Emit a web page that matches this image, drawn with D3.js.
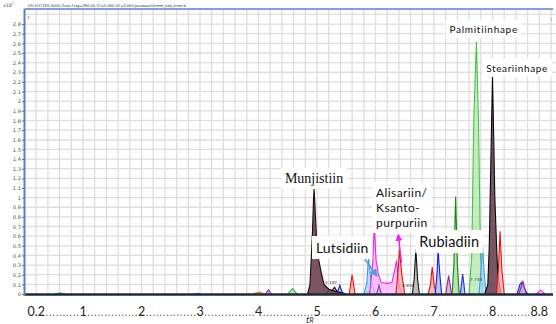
<!DOCTYPE html>
<html>
<head>
<meta charset="utf-8">
<script src="https://cdn.jsdelivr.net/npm/d3@7"></script>
<style>
  html, body { margin: 0; padding: 0; background: #fff; }
  svg { display: block; }
</style>
</head>
<body>
<svg id="chart" width="556" height="324"></svg>
<script>
// ---- axis ticks -------------------------------------------------------
const xTickValues = [0.2, 1, 2, 3, 4, 5, 6, 7, 8, 8.8];
const xTickLabels = ["0.2", "1", "2", "3", "4", "5", "6", "7", "8", "8.8"];
const yTickTenths = d3.range(0, 29);          // 0 … 2.8 (×10^7 counts)

// ---- chromatogram traces: [retention time (min), intensity ×10^7] ------
const greenBump06   = [[0.5,0],[0.6,0.012],[0.7,0]];
const purpleBump295 = [[2.9,0],[2.95,0.008],[3.0,0]];
const orangeBump40  = [[3.9,0],[4.02,0.02],[4.1,0]];
const purpleBump417 = [[4.12,0],[4.17,0.045],[4.22,0]];
const greenBump458  = [[4.5,0],[4.58,0.055],[4.66,0]];
const munjistiin    = [[4.84,0],[4.88,0.1],[4.9,0.35],[4.92,0.6],[4.94,0.98],[4.95,1.09],[4.96,0.98],[4.99,0.6],[5.03,0.35],[5.08,0.2],[5.12,0.1],[5.2,0.05],[5.3,0.03],[5.45,0.01],[5.5,0]];
const blackSmall53  = [[5.15,0],[5.2,0.05],[5.25,0.03],[5.3,0.07],[5.35,0.02],[5.42,0]];
const blueSmall539  = [[5.34,0],[5.39,0.09],[5.44,0]];
const red56         = [[5.55,0],[5.6,0.2],[5.65,0]];
const orange588     = [[5.82,0],[5.88,0.03],[5.95,0]];
const lutsidiin     = [[5.8,0],[5.85,0.1],[5.88,0.38],[5.92,0.15],[5.97,0.05],[6.0,0]];
const alisariin     = [[5.9,0],[5.95,0.3],[5.98,0.7],[6.01,0.35],[6.05,0.2],[6.1,0.12],[6.2,0.11],[6.28,0.12],[6.33,0.25],[6.36,0.35],[6.4,0.1],[6.45,0]];
const purple606     = [[6.02,0],[6.06,0.09],[6.1,0]];
const red640        = [[6.35,0],[6.38,0.2],[6.41,0.46],[6.45,0.2],[6.5,0]];
const black669      = [[6.63,0],[6.66,0.15],[6.69,0.46],[6.72,0.15],[6.75,0]];
const red697        = [[6.9,0],[6.94,0.1],[6.97,0.28],[7.0,0.1],[7.04,0]];
const rubiadiin     = [[7.02,0],[7.05,0.2],[7.07,0.46],[7.1,0.2],[7.13,0]];
const purple725     = [[7.2,0],[7.25,0.19],[7.3,0]];
const green737      = [[7.31,0],[7.34,0.3],[7.37,1.01],[7.4,0.3],[7.43,0]];
const blue749       = [[7.45,0],[7.49,0.21],[7.53,0]];
const palmitiinhape = [[7.6,0],[7.645,0.4],[7.68,1.8],[7.725,2.62],[7.76,1.8],[7.795,0.4],[7.84,0]];
const lightBlue783  = [[7.77,0],[7.81,0.3],[7.83,0.5],[7.86,0.2],[7.89,0]];
const steariinhape  = [[7.87,0],[7.92,0.1],[7.945,0.5],[7.96,1.0],[7.985,1.8],[8.0,2.25],[8.015,1.8],[8.04,1.0],[8.07,0.5],[8.09,0.2],[8.15,0]];
const red813        = [[8.07,0],[8.1,0.25],[8.13,0.65],[8.16,0.25],[8.2,0]];
const blue850       = [[8.42,0],[8.47,0.1],[8.5,0.12],[8.55,0.05],[8.6,0]];
const purple852     = [[8.45,0],[8.52,0.13],[8.58,0]];
const magenta882    = [[8.75,0],[8.82,0.04],[8.9,0]];

// ---- compound labels and peak annotations ------------------------------
const compoundNames = ["Munjistiin", "Lutsidiin", "Alisariin/|Ksanto-|purpuriin", "Rubiadiin", "Palmitiinhape", "Steariinhape"];
const peakTimes     = ["5.197", "6.658", "7.734"];

// ---- styles -------------------------------------------------------------
const traces = [
  { d: greenBump06,   line: "#3cb043", fill: null },
  { d: purpleBump295, line: "#7b3fa0", fill: null },
  { d: orangeBump40,  line: "#d08000", fill: "#f0c878" },
  { d: purpleBump417, line: "#8e2c8e", fill: "#d0a0d8" },
  { d: greenBump458,  line: "#33b033", fill: "#b0e0a8" },
  { d: blackSmall53,  line: "#111111", fill: "#909090" },
  { d: blueSmall539,  line: "#2222cc", fill: "#a8b0f0" },
  { d: red56,         line: "#e81010", fill: "#f6a8a8" },
  { d: orange588,     line: "#d08000", fill: "#f0c878" },
  { d: lutsidiin,     line: "#3a9af0", fill: "#a8d4f8" },
  { d: alisariin,     line: "#f020f0", fill: "#ffb0ff" },
  { d: purple606,     line: "#9b30b0", fill: "#d4a8e0" },
  { d: red640,        line: "#e81010", fill: "#f6a8a8" },
  { d: black669,      line: "#111111", fill: "#a8a8a8" },
  { d: red697,        line: "#e81010", fill: "#f6a8a8" },
  { d: rubiadiin,     line: "#1a1aee", fill: "#a8b0f0" },
  { d: purple725,     line: "#8a2a8a", fill: "#d0a0d8" },
  { d: green737,      line: "#0b8a0b", fill: "#a4d8a0" },
  { d: blue749,       line: "#2030d0", fill: "#a8b0f0" },
  { d: palmitiinhape, line: "#44c444", fill: "#b4e6ac" },
  { d: lightBlue783,  line: "#3a9af0", fill: "#a8d4f8" },
  { d: munjistiin,    line: "#1a0a10", fill: "#6e4254" },
  { d: steariinhape,  line: "#0a0a0a", fill: "#6e4254" },
  { d: red813,        line: "#e81010", fill: "#f6a8a8" },
  { d: blue850,       line: "#1a1aee", fill: "#a8b0f0" },
  { d: purple852,     line: "#8a2a8a", fill: "#d0a0d8" },
  { d: magenta882,    line: "#f020f0", fill: "#ffb0ff" }
];

const svg = d3.select("#chart");
const W = 556;
const x = d3.scaleLinear().domain([0, 9]).range([24.5, 551]);
const y = d3.scaleLinear().domain([0, 2.95]).range([294, 9.6]);

// grid
const grid = svg.append("g").attr("stroke", "#dedede").attr("stroke-width", 1.3);
grid.selectAll("line.v").data(d3.range(1, 46).map(i => i * 0.2)).join("line")
  .attr("x1", d => x(d)).attr("x2", d => x(d))
  .attr("y1", y(2.95)).attr("y2", y(0));
grid.selectAll("line.h").data(d3.range(1, 30).map(i => i / 10)).join("line")
  .attr("x1", x(0)).attr("x2", W)
  .attr("y1", d => y(d)).attr("y2", d => y(d));

// y axis ticks and labels
const fmt = d3.format(".1~f");
const yAxis = svg.append("g").attr("transform", `translate(${x(0)},0)`)
  .call(d3.axisLeft(y).tickValues(yTickTenths.map(v => v / 10)).tickFormat(fmt).tickSize(2.5).tickPadding(1));
yAxis.select(".domain").remove();
yAxis.selectAll("text").attr("font-family", "DejaVu Sans").attr("font-size", 5.2).attr("fill", "#555");
yAxis.selectAll("line").attr("stroke", "#666");

// header
svg.append("text").attr("x", 3).attr("y", 6.5).attr("font-family", "DejaVu Sans").attr("font-size", 4.6).attr("fill", "#444").text("x10");
svg.append("text").attr("x", 11.5).attr("y", 4.5).attr("font-family", "DejaVu Sans").attr("font-size", 3.2).attr("fill", "#444").text("7");
svg.append("text").attr("x", 27).attr("y", 6.5).attr("font-family", "DejaVu Sans").attr("font-size", 3.6).attr("fill", "#333")
  .text("-ESI EIC(283.0000) Scan Frag=380.0V CF=0.000 DF=0.000 punasavilikhem_kad_krom.d");
svg.append("text").attr("x", 27).attr("y", 19).attr("font-family", "DejaVu Sans").attr("font-size", 4.2).attr("fill", "#555").text("1");
svg.append("text").attr("x", 550).attr("y", 21).attr("font-family", "DejaVu Sans").attr("font-size", 4.2).attr("fill", "#999").text("1");

// traces: fills, then outlines
const area = d3.area().x(d => x(d[0])).y0(y(0)).y1(d => y(d[1]));
const line = d3.line().x(d => x(d[0])).y(d => y(d[1]));
const gT = svg.append("g");
traces.forEach(t => {
  if (t.fill) gT.append("path").attr("d", area(t.d)).attr("fill", t.fill)
    .attr("fill-opacity", t.fill === "#6e4254" ? 0.9 : 0.75);
  gT.append("path").attr("d", line(t.d)).attr("fill", "none").attr("stroke", t.line).attr("stroke-width", 1.1);
});

// baseline of all traces
svg.append("line").attr("x1", x(0)).attr("x2", 553).attr("y1", y(0) + 0.5).attr("y2", y(0) + 0.5)
  .attr("stroke", "#1c2a3c").attr("stroke-width", 2.6);

// axes frame
svg.append("line").attr("x1", x(0)).attr("x2", 553).attr("y1", 9).attr("y2", 9)
  .attr("stroke", "#5a7fc4").attr("stroke-width", 1.4);
svg.append("line").attr("x1", x(0)).attr("x2", x(0)).attr("y1", 9).attr("y2", 296)
  .attr("stroke", "#5a7fc4").attr("stroke-width", 2);

// small retention-time annotations
const annPos = [[5.24, 0.1], [6.56, 0.07], [7.72, 0.14]];
svg.append("g").selectAll("text").data(peakTimes).join("text")
  .attr("x", (d, i) => x(annPos[i][0])).attr("y", (d, i) => y(annPos[i][1]))
  .attr("text-anchor", "middle").attr("font-family", "DejaVu Sans").attr("font-size", 4.2).attr("fill", "#333")
  .text(d => d);

// arrows
const defs = svg.append("defs");
[["arMag", "#f020f0"], ["arBlue", "#5b9bd5"]].forEach(([id, c]) => {
  defs.append("marker").attr("id", id).attr("viewBox", "0 0 10 10").attr("refX", 8).attr("refY", 5)
    .attr("markerWidth", 5).attr("markerHeight", 5).attr("orient", "auto")
    .append("path").attr("d", "M0,0L10,5L0,10z").attr("fill", c);
});
svg.append("line").attr("x1", x(6.445)).attr("y1", y(0.32)).attr("x2", x(6.39)).attr("y2", y(0.61))
  .attr("stroke", "#f020f0").attr("stroke-width", 1.4).attr("marker-end", "url(#arMag)");
svg.append("line").attr("x1", x(5.82)).attr("y1", y(0.36)).attr("x2", x(6.02)).attr("y2", y(0.19))
  .attr("stroke", "#5b9bd5").attr("stroke-width", 1.6).attr("marker-end", "url(#arBlue)");

// compound labels with white boxes (anchor: "middle" or "start")
const labelSpec = [
  { t: 4.95, v: 1.156, anchor: "middle", font: "Liberation Serif", size: 14,  ls: 0,   lh: 0 },
  { t: 5.43, v: 0.425, anchor: "middle", font: "Lato",             size: 14,  ls: 0.1, lh: 0 },
  { t: 6.01, v: 1.006, anchor: "start",  font: "Lato",             size: 12,  ls: 0.4, lh: 15 },
  { t: 7.26, v: 0.487, anchor: "middle", font: "Lato",             size: 14.5, ls: 0.1, lh: 0 },
  { t: 7.85, v: 2.71,  anchor: "middle", font: "Lato",             size: 10,  ls: 0.7, lh: 0 },
  { t: 8.42, v: 2.307, anchor: "middle", font: "Lato",             size: 10,  ls: 0.6, lh: 0 }
];
const gL = svg.append("g");
compoundNames.forEach((name, i) => {
  const s = labelSpec[i];
  const g = gL.append("g");
  const txt = g.append("text").attr("font-family", s.font).attr("font-size", s.size)
    .attr("letter-spacing", s.ls).attr("fill", "#111").attr("text-anchor", s.anchor);
  name.split("|").forEach((ln, k) => {
    txt.append("tspan").attr("x", x(s.t)).attr("y", y(s.v) + k * s.lh).text(ln);
  });
  const bb = txt.node().getBBox();
  g.insert("rect", "text").attr("x", bb.x - 4).attr("y", bb.y - 3)
    .attr("width", bb.width + 8).attr("height", bb.height + 6).attr("fill", "#fff");
});

// x axis labels joined by dotted leaders
const gx = svg.append("g");
const xl = gx.selectAll("text").data(xTickValues).join("text")
  .attr("x", d => x(d)).attr("y", 316).attr("text-anchor", "middle")
  .attr("font-family", "Lato").attr("font-size", 12.5).attr("fill", "#222")
  .text((d, i) => xTickLabels[i]);
const boxes = xl.nodes().map(n => n.getBBox());
for (let i = 0; i < boxes.length - 1; i++) {
  gx.append("line").attr("x1", boxes[i].x + boxes[i].width + 1.5).attr("x2", boxes[i + 1].x - 1)
    .attr("y1", 315.2).attr("y2", 315.2)
    .attr("stroke", "#333").attr("stroke-width", 1.1).attr("stroke-dasharray", "1.1 2.3");
}
const tr = svg.append("text").attr("x", 306).attr("y", 323).attr("font-family", "Lato")
  .attr("font-size", 10).attr("fill", "#333");
tr.append("tspan").attr("font-style", "italic").text("t");
tr.append("tspan").attr("font-size", 7).attr("font-style", "italic").text("R");
</script>
</body>
</html>
